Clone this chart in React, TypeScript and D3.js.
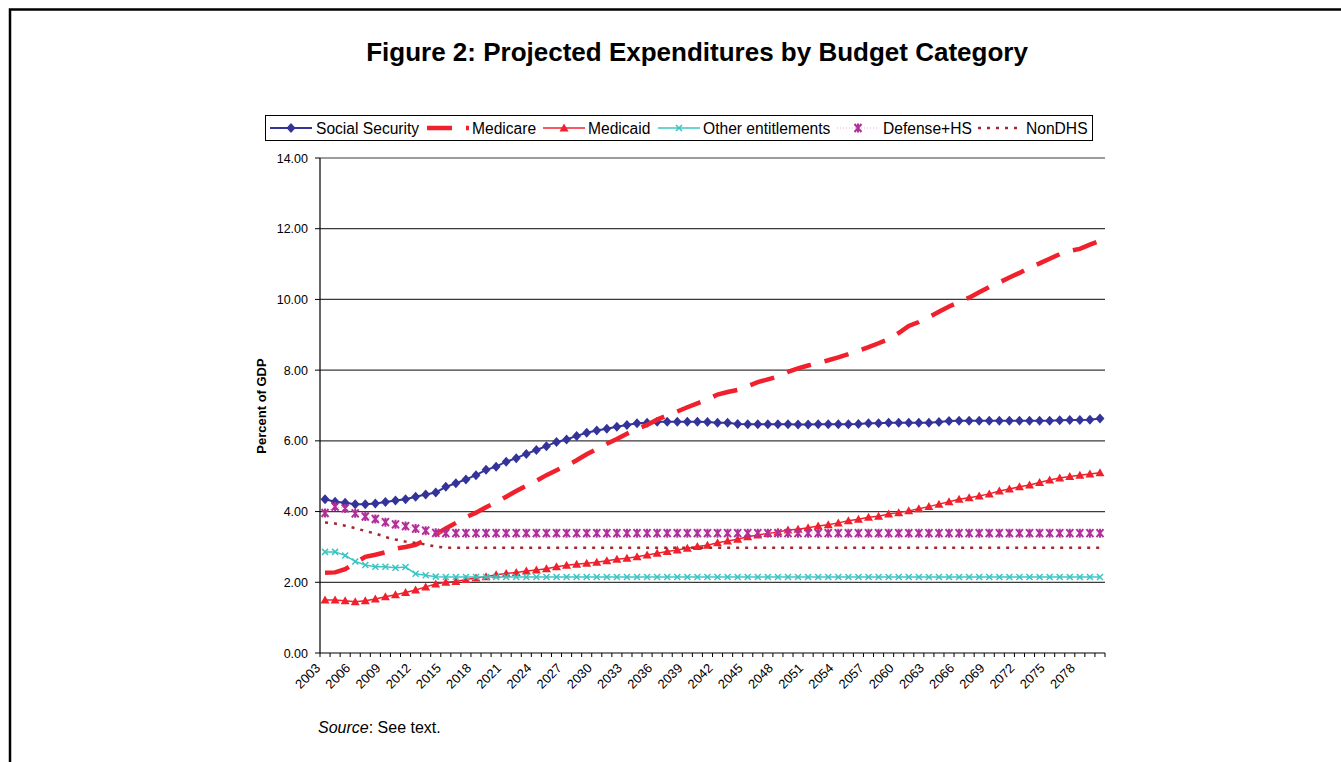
import React from 'react';
import * as d3 from 'd3';

// categories
const years = d3.range(2003, 2081);
const tickYears = [2003, 2006, 2009, 2012, 2015, 2018, 2021, 2024, 2027, 2030, 2033, 2036, 2039, 2042, 2045, 2048, 2051, 2054, 2057, 2060, 2063, 2066, 2069, 2072, 2075, 2078];
const yTicks = [0, 2, 4, 6, 8, 10, 12, 14];

// series, percent of GDP, one value per year 2003..2080
const socialSecurity = [
  4.35, 4.28, 4.25, 4.21, 4.21, 4.23, 4.27, 4.31, 4.35, 4.42, 4.48, 4.54, 4.70, 4.80, 4.91, 5.03, 5.18, 5.27, 5.41, 5.51,
  5.63, 5.74, 5.85, 5.97, 6.04, 6.14, 6.23, 6.29, 6.34, 6.40, 6.45, 6.50, 6.51, 6.54, 6.54, 6.54, 6.54, 6.54, 6.53, 6.51,
  6.51, 6.48, 6.47, 6.47, 6.47, 6.47, 6.47, 6.46, 6.46, 6.47, 6.47, 6.47, 6.47, 6.48, 6.50, 6.50, 6.51, 6.51, 6.51, 6.51,
  6.51, 6.53, 6.56, 6.57, 6.57, 6.57, 6.57, 6.57, 6.57, 6.57, 6.57, 6.57, 6.57, 6.58, 6.59, 6.59, 6.60, 6.63,
];
const medicare = [
  2.27, 2.28, 2.37, 2.55, 2.72, 2.78, 2.85, 2.95, 3.00, 3.06, 3.20, 3.35, 3.52, 3.68, 3.84, 3.97, 4.12, 4.26, 4.42, 4.58,
  4.73, 4.87, 5.03, 5.17, 5.30, 5.45, 5.62, 5.77, 5.92, 6.05, 6.20, 6.34, 6.45, 6.60, 6.72, 6.83, 6.95, 7.06, 7.17, 7.31,
  7.38, 7.44, 7.55, 7.66, 7.74, 7.82, 7.95, 8.05, 8.13, 8.20, 8.28, 8.36, 8.45, 8.55, 8.65, 8.76, 8.88, 9.05, 9.25, 9.36,
  9.50, 9.65, 9.80, 9.92, 10.05, 10.20, 10.35, 10.48, 10.62, 10.75, 10.90, 11.02, 11.15, 11.28, 11.37, 11.43, 11.55, 11.66,
];
const medicaid = [
  1.50, 1.50, 1.48, 1.45, 1.48, 1.53, 1.59, 1.65, 1.71, 1.78, 1.87, 1.95, 2.00, 2.02, 2.08, 2.12, 2.16, 2.21, 2.25, 2.28,
  2.32, 2.35, 2.38, 2.44, 2.48, 2.51, 2.54, 2.57, 2.61, 2.65, 2.68, 2.72, 2.77, 2.82, 2.87, 2.91, 2.96, 3.01, 3.05, 3.12,
  3.17, 3.22, 3.29, 3.34, 3.38, 3.42, 3.48, 3.50, 3.54, 3.59, 3.63, 3.68, 3.74, 3.78, 3.84, 3.87, 3.93, 3.97, 4.02, 4.08,
  4.14, 4.21, 4.28, 4.35, 4.39, 4.44, 4.50, 4.58, 4.64, 4.70, 4.75, 4.82, 4.89, 4.95, 4.99, 5.03, 5.06, 5.10,
];
const otherEntitlements = [
  2.86, 2.86, 2.76, 2.59, 2.49, 2.44, 2.44, 2.41, 2.43, 2.24, 2.20, 2.16, 2.15, 2.15, 2.15, 2.15, 2.15, 2.15, 2.15, 2.15,
  2.15, 2.15, 2.15, 2.15, 2.15, 2.15, 2.15, 2.15, 2.15, 2.15, 2.15, 2.15, 2.15, 2.15, 2.15, 2.15, 2.15, 2.15, 2.15, 2.15,
  2.15, 2.15, 2.15, 2.15, 2.15, 2.15, 2.15, 2.15, 2.15, 2.15, 2.15, 2.15, 2.15, 2.15, 2.15, 2.15, 2.15, 2.15, 2.15, 2.15,
  2.15, 2.15, 2.15, 2.15, 2.15, 2.15, 2.15, 2.15, 2.15, 2.15, 2.15, 2.15, 2.15, 2.15, 2.15, 2.15, 2.15, 2.15,
];
const defenseHS = [
  3.96, 4.14, 4.09, 3.95, 3.86, 3.79, 3.70, 3.64, 3.59, 3.52, 3.46, 3.40, 3.39, 3.39, 3.39, 3.39, 3.39, 3.39, 3.39, 3.39,
  3.39, 3.39, 3.39, 3.39, 3.39, 3.39, 3.39, 3.39, 3.39, 3.39, 3.39, 3.39, 3.39, 3.39, 3.39, 3.39, 3.39, 3.39, 3.39, 3.39,
  3.39, 3.39, 3.39, 3.39, 3.39, 3.39, 3.39, 3.39, 3.39, 3.39, 3.39, 3.39, 3.39, 3.39, 3.39, 3.39, 3.39, 3.39, 3.39, 3.39,
  3.39, 3.39, 3.39, 3.39, 3.39, 3.39, 3.39, 3.39, 3.39, 3.39, 3.39, 3.39, 3.39, 3.39, 3.39, 3.39, 3.39, 3.39,
];
const nonDHS = [
  3.69, 3.66, 3.60, 3.53, 3.45, 3.38, 3.28, 3.21, 3.15, 3.11, 3.07, 3.01, 2.98, 2.98, 2.98, 2.98, 2.98, 2.98, 2.98, 2.98,
  2.98, 2.98, 2.98, 2.98, 2.98, 2.98, 2.98, 2.98, 2.98, 2.98, 2.98, 2.98, 2.98, 2.98, 2.98, 2.98, 2.98, 2.98, 2.98, 2.98,
  2.98, 2.98, 2.98, 2.98, 2.98, 2.98, 2.98, 2.98, 2.98, 2.98, 2.98, 2.98, 2.98, 2.98, 2.98, 2.98, 2.98, 2.98, 2.98, 2.98,
  2.98, 2.98, 2.98, 2.98, 2.98, 2.98, 2.98, 2.98, 2.98, 2.98, 2.98, 2.98, 2.98, 2.98, 2.98, 2.98, 2.98, 2.98,
];

const width = 1341;
const height = 762;
const plot = { left: 320, right: 1105, top: 158, bottom: 653 };
const font = '"Liberation Sans", Arial, sans-serif';

const RED = '#f0202c';

const markers: Record<string, { d: string; fill?: string; stroke?: string; sw?: number }> = {
  diamond: { d: 'M0,-5L4.5,0L0,5L-4.5,0Z', fill: '#333399' },
  triangle: { d: 'M0,-4.5L4.5,3.5L-4.5,3.5Z', fill: RED },
  cross: { d: 'M-3,-3L3,3M3,-3L-3,3', stroke: '#3cc4c4', sw: 1.5 },
  star: { d: 'M-3.5,-4L3.5,4M3.5,-4L-3.5,4M0,-4.5L0,4.5', stroke: '#b0309a', sw: 2 },
};

const series = [
  { name: 'Social Security', values: socialSecurity, color: '#333399', sw: 2, dash: undefined, marker: 'diamond', lx: 270, tx: 316 },
  { name: 'Medicare', values: medicare, color: RED, sw: 4.5, dash: '25 14', marker: null, lx: 427, tx: 472 },
  { name: 'Medicaid', values: medicaid, color: RED, sw: 1.5, dash: undefined, marker: 'triangle', lx: 543, tx: 588 },
  { name: 'Other entitlements', values: otherEntitlements, color: '#3cc4c4', sw: 1.5, dash: undefined, marker: 'cross', lx: 658, tx: 703 },
  { name: 'Defense+HS', values: defenseHS, color: '#e8a8dc', sw: 1, dash: '1 2', marker: 'star', lx: 837, tx: 883 },
  { name: 'NonDHS', values: nonDHS, color: '#a3282c', sw: 2.5, dash: '3 6', marker: null, lx: 978, tx: 1026 },
];

const Marker = ({ kind, x, y }: { kind: string; x: number; y: number }) => {
  const m = markers[kind];
  return (
    <path
      d={m.d}
      transform={`translate(${x},${y})`}
      fill={m.fill || 'none'}
      stroke={m.stroke || 'none'}
      strokeWidth={m.sw || 0}
    />
  );
};

export default function App() {
  const x = d3.scaleBand<number>().domain(years).range([plot.left, plot.right]).padding(0);
  const cx = (yr: number) => (x(yr) as number) + x.bandwidth() / 2;
  const y = d3.scaleLinear().domain([0, 14]).range([plot.bottom, plot.top]);

  const line = d3
    .line<number>()
    .x((_, i) => cx(years[i]))
    .y((d) => y(d));

  const legendY = 128;

  return (
    <svg width={width} height={height} style={{ position: 'absolute', left: 0, top: 0, background: '#fff' }} fontFamily={font}>
      {/* outer frame */}
      <path d={`M10,${height}L10,9.5L${width},9.5`} fill="none" stroke="#000" strokeWidth={2.5} />

      <text x={697} y={61} textAnchor="middle" fontWeight="bold" fontSize={26}>
        Figure 2: Projected Expenditures by Budget Category
      </text>

      {/* legend */}
      <rect x={265.5} y={115.5} width={827} height={25} fill="none" stroke="#000" strokeWidth={1} />
      {series.map((s) => (
        <g key={s.name}>
          <line
            x1={s.lx}
            x2={s.lx + 42}
            y1={legendY}
            y2={legendY}
            stroke={s.color}
            strokeWidth={s.sw}
            strokeDasharray={s.dash}
          />
          {s.marker && <Marker kind={s.marker} x={s.lx + 21} y={legendY} />}
          <text x={s.tx} y={legendY + 5.5} fontSize={15.6}>
            {s.name}
          </text>
        </g>
      ))}

      {/* gridlines */}
      {yTicks.map((t) => (
        <g key={t}>
          {t > 0 && (
            <line x1={plot.left} x2={plot.right} y1={y(t)} y2={y(t)} stroke="#3a3a3a" strokeWidth={1.2} />
          )}
          <line x1={plot.left - 5} x2={plot.left} y1={y(t)} y2={y(t)} stroke="#000" strokeWidth={1} />
          <text x={308} y={y(t) + 4.5} textAnchor="end" fontSize={12.5}>
            {t.toFixed(2)}
          </text>
        </g>
      ))}

      {/* axes */}
      <line x1={plot.left} x2={plot.left} y1={plot.top} y2={plot.bottom} stroke="#000" strokeWidth={1.2} />
      <line x1={plot.left} x2={plot.right} y1={plot.bottom} y2={plot.bottom} stroke="#000" strokeWidth={1.2} />
      {years.map((yr) => (
        <line key={yr} x1={x(yr)} x2={x(yr)} y1={plot.bottom} y2={plot.bottom + 4} stroke="#000" strokeWidth={1} />
      ))}
      <line x1={plot.right} x2={plot.right} y1={plot.bottom} y2={plot.bottom + 4} stroke="#000" strokeWidth={1} />
      {tickYears.map((yr) => (
        <text
          key={yr}
          transform={`translate(${cx(yr) - 4},${plot.bottom + 16}) rotate(-45)`}
          textAnchor="end"
          fontSize={13}
        >
          {yr}
        </text>
      ))}

      <text transform="translate(266,406) rotate(-90)" textAnchor="middle" fontWeight="bold" fontSize={13}>
        Percent of GDP
      </text>

      {/* series */}
      {series.map((s) => (
        <g key={s.name}>
          <path d={line(s.values) || ''} fill="none" stroke={s.color} strokeWidth={s.sw} strokeDasharray={s.dash} />
          {s.marker && s.values.map((v, i) => <Marker key={i} kind={s.marker as string} x={cx(years[i])} y={y(v)} />)}
        </g>
      ))}

      <text x={318} y={733} fontSize={16}>
        <tspan fontStyle="italic">Source</tspan>: See text.
      </text>
    </svg>
  );
}
